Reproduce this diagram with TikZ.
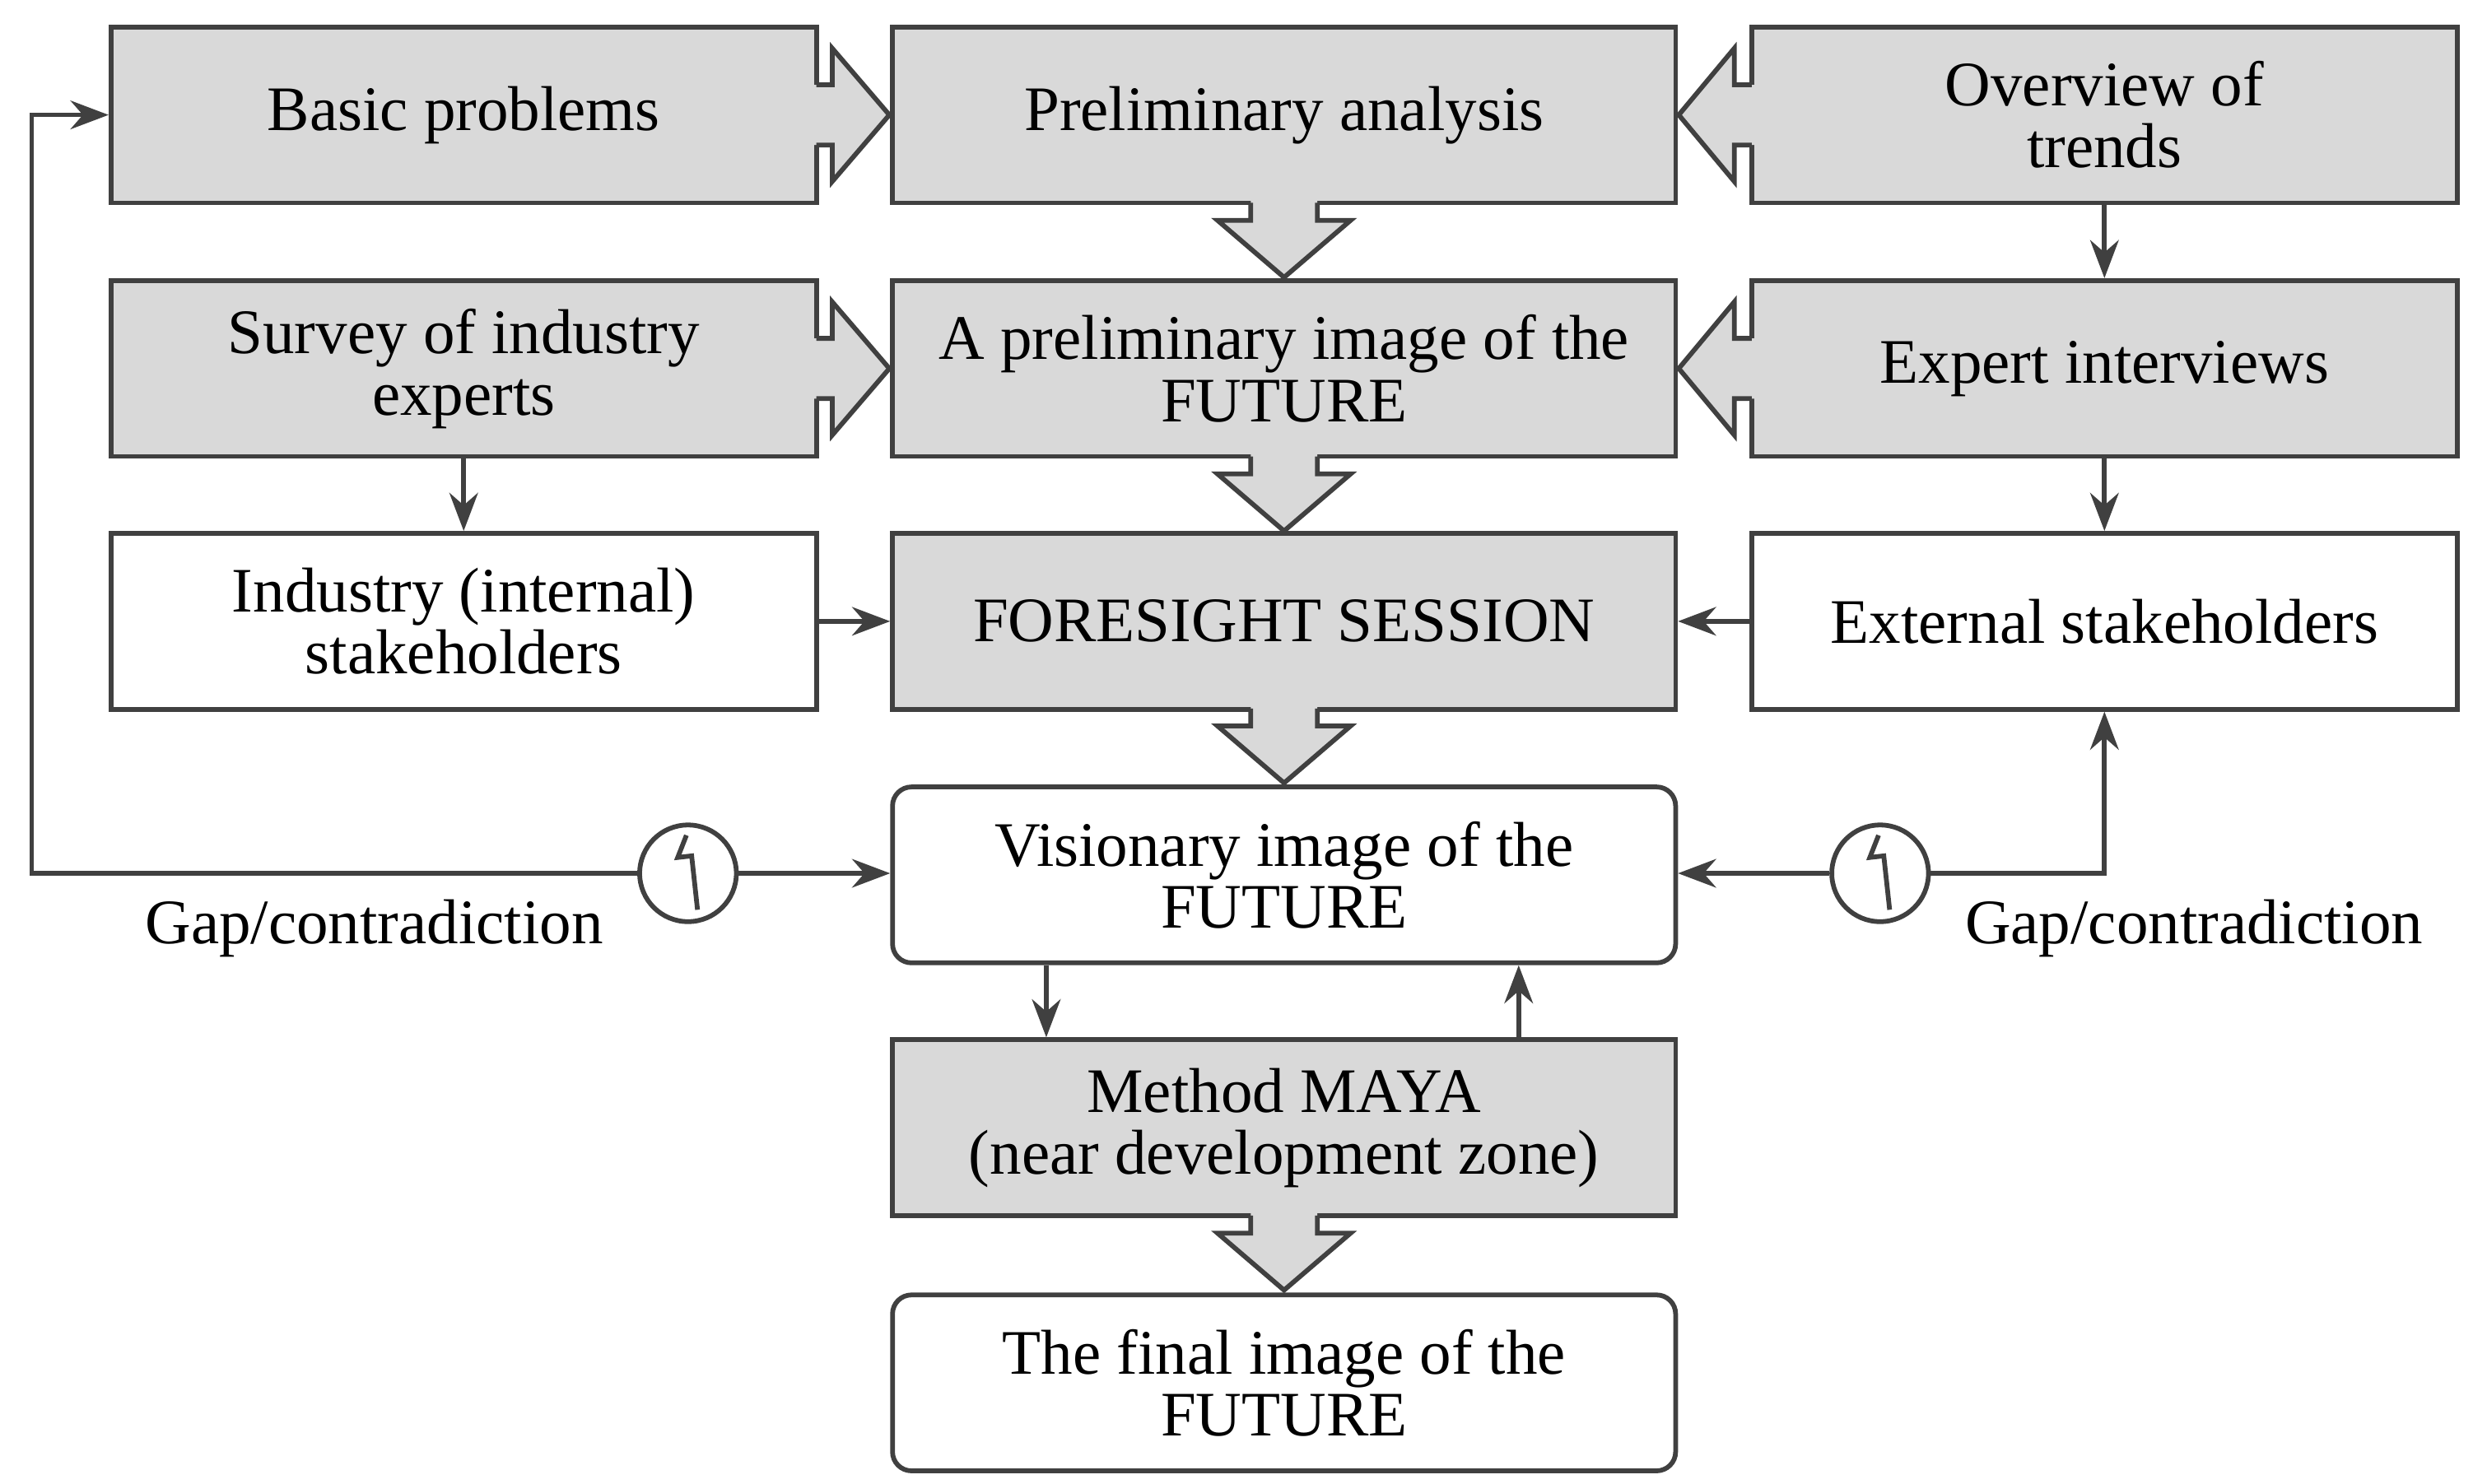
\documentclass[tikz,border=0pt]{standalone}
\usepackage{fontspec}
\setmainfont{Liberation Serif}
\usetikzlibrary{arrows.meta}
\definecolor{ln}{HTML}{404040}
\definecolor{gf}{HTML}{D9D9D9}
\begin{document}
\begin{tikzpicture}[x=1pt,y=-1pt,
  box/.style={draw=ln,line width=3pt,minimum height=111pt,inner sep=0pt,align=center,font=\fontsize{40}{39}\selectfont},
  g/.style={box,fill=gf},
  w/.style={box,fill=white},
  r/.style={box,fill=white,rounded corners=12pt},
  n/.style={minimum width=445pt},
  m/.style={minimum width=494pt},
  ar/.style={draw=ln,line width=3pt,-{Stealth[length=24pt,width=18pt]}},
  blk/.style={fill=gf},
  blo/.style={draw=ln,line width=3pt,line join=miter}]
\useasboundingbox (0,0) rectangle (1560,936.3);
\node[g,n] (basic) at (292.5,72.5) {Basic problems};
\node[g,m] (prelim) at (810,72.5) {Preliminary analysis};
\node[g,n] (trends) at (1327.5,72.5) {Overview of\\trends};
\node[g,n] (survey) at (292.5,232.5) {Survey of industry\\experts};
\node[g,m] (pimage) at (810,232.5) {A preliminary image of the\\FUTURE};
\node[g,n] (expert) at (1327.5,232.5) {Expert interviews};
\node[w,n] (industry) at (292.5,392) {Industry (internal)\\stakeholders};
\node[g,m] (fs) at (810,392) {FORESIGHT SESSION};
\node[w,n] (external) at (1327.5,392) {External stakeholders};
\node[r,m] (vis) at (810,552) {Visionary image of the\\FUTURE};
\node[g,m] (maya) at (810,711.5) {Method MAYA\\(near development zone)};
\node[r,m] (final) at (810,872.5) {The final image of the\\FUTURE};
% block arrows
\foreach \y in {72.5,232.5}{
 \fill[blk] (512,\y-19)--(525,\y-19)--(525,\y-42)--(561,\y)--(525,\y+42)--(525,\y+19)--(512,\y+19)--cycle;
 \draw[blo] (515,\y-19)--(525,\y-19)--(525,\y-42)--(561,\y)--(525,\y+42)--(525,\y+19)--(515,\y+19);
 \fill[blk] (1108,\y-19)--(1094,\y-19)--(1094,\y-42)--(1059,\y)--(1094,\y+42)--(1094,\y+19)--(1108,\y+19)--cycle;
 \draw[blo] (1105,\y-19)--(1094,\y-19)--(1094,\y-42)--(1059,\y)--(1094,\y+42)--(1094,\y+19)--(1105,\y+19);
}
\foreach \yb in {128,288,447,767}{
 \fill[blk] (789,\yb-3)--(789,\yb+11)--(768,\yb+11)--(810,\yb+47)--(852,\yb+11)--(831,\yb+11)--(831,\yb-3)--cycle;
 \draw[blo] (789,\yb)--(789,\yb+11)--(768,\yb+11)--(810,\yb+47)--(852,\yb+11)--(831,\yb+11)--(831,\yb);
}
% thin arrows
\draw[ar] (trends.south) -- (expert.north);
\draw[ar] (expert.south) -- (external.north);
\draw[ar] (survey.south) -- (industry.north);
\draw[ar] (industry.east) -- (fs.west);
\draw[ar] (external.west) -- (fs.east);
\draw[ar] ([xshift=-150pt]vis.south) -- ([xshift=-150pt]maya.north);
\draw[ar] ([xshift=148pt]maya.north) -- ([xshift=148pt]vis.south);
% gap circles
\node[draw=ln,line width=3pt,circle,minimum size=61pt,inner sep=0pt] (c1) at (434,551) {};
\node[draw=ln,line width=3pt,circle,minimum size=61pt,inner sep=0pt] (c2) at (1186,551) {};
\foreach \c in {c1,c2}{
 \draw[ln,line width=3pt,line join=miter] ([shift={(-1,-24)}]\c.center)--([shift={(-6.5,-10)}]\c.center)--([shift={(2.3,-11)}]\c.center)--([shift={(6,23)}]\c.center);}
\coordinate (l1) at (20,551);
\coordinate (r1) at (1327.5,551);
\draw[ar] (c1) -- (vis.west|-c1);
\draw[ar] (c1) -- (l1) |- (basic.west);
\draw[ar] (c2) -- (vis.east|-c2);
\draw[ar] (c2) -- (r1) -- (external.south);
\node[font=\fontsize{40}{39}\selectfont] (gl) at (236,586) {Gap/contradiction};
\node[font=\fontsize{40}{39}\selectfont] (gr) at (1384,586) {Gap/contradiction};
\end{tikzpicture}
\end{document}
